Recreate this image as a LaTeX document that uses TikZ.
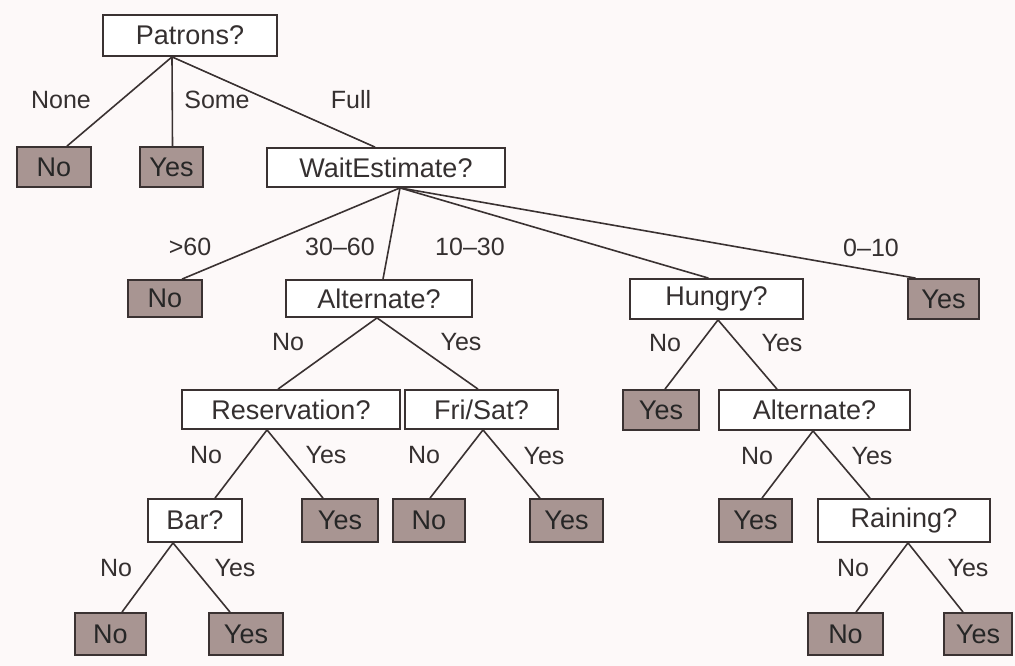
\documentclass[tikz,border=0pt]{standalone}
\usepackage{fontspec}
\setmainfont{Liberation Sans}
\definecolor{bgc}{HTML}{FDF9F9}
\definecolor{leafc}{HTML}{A89592}
\definecolor{inkc}{HTML}{3A3232}
\definecolor{txtc}{HTML}{353030}
\begin{document}
\begin{tikzpicture}[x=1pt,y=-1pt,
  box/.style={draw=inkc,line width=1.8pt,fill=white,inner sep=0pt,text=txtc,font=\fontsize{27}{30}\selectfont},
  inner/.style={box},
  leaf/.style={box,fill=leafc,text=black!85},
  lab/.style={inner sep=0pt,text=txtc,font=\fontsize{25}{28}\selectfont},
  edge/.style={draw=inkc,line width=1.6pt}]
\useasboundingbox[fill=bgc] (0,0) rectangle (1015,666);
% nodes
\node[inner,minimum width=174pt,minimum height=41pt] (pat) at (190,35.5) {Patrons?};
\node[leaf,minimum width=74pt,minimum height=40pt] (n1) at (54,167) {No};
\node[leaf,minimum width=63pt,minimum height=40pt] (y1) at (171.5,167) {Yes};
\node[inner,minimum width=238pt,minimum height=39pt] (we) at (386,167.5) {WaitEstimate?};
\node[leaf,minimum width=74pt,minimum height=37pt] (n2) at (165,298.5) {No};
\node[inner,minimum width=186pt,minimum height=37pt] (alta) at (379,298.5) {Alternate?};
\node[inner,minimum width=173pt,minimum height=40pt] (hun) at (716.5,299) {Hungry?};
\node[leaf,minimum width=71pt,minimum height=40pt] (y2) at (943.5,299) {Yes};
\node[inner,minimum width=218pt,minimum height=39pt] (res) at (291,409.5) {Reservation?};
\node[inner,minimum width=153pt,minimum height=39pt] (fri) at (481.5,409.5) {Fri/Sat?};
\node[leaf,minimum width=76pt,minimum height=40pt] (y6) at (661,410) {Yes};
\node[inner,minimum width=191pt,minimum height=40pt] (altb) at (814.5,410) {Alternate?};
\node[inner,minimum width=94pt,minimum height=43pt] (bar) at (195,520.5) {Bar?};
\node[leaf,minimum width=76pt,minimum height=43pt] (y3) at (340,520.5) {Yes};
\node[leaf,minimum width=72pt,minimum height=43pt] (n3) at (429,520.5) {No};
\node[leaf,minimum width=73pt,minimum height=43pt] (y4) at (566.5,520.5) {Yes};
\node[leaf,minimum width=73pt,minimum height=43pt] (y7) at (755.5,520.5) {Yes};
\node[inner,minimum width=172pt,minimum height=43pt] (rain) at (904,520.5) {Raining?};
\node[leaf,minimum width=71pt,minimum height=42pt] (n4) at (110.5,634) {No};
\node[leaf,minimum width=74pt,minimum height=42pt] (y5) at (246,634) {Yes};
\node[leaf,minimum width=75pt,minimum height=42pt] (n5) at (845.5,634) {No};
\node[leaf,minimum width=68pt,minimum height=42pt] (y8) at (978,634) {Yes};
% edges
\draw[edge] ([xshift=-18pt]pat.south) -- ([xshift=13pt]n1.north);
\draw[edge] ([xshift=-18pt]pat.south) -- ([xshift=1pt]y1.north);
\draw[edge] ([xshift=-18pt]pat.south) -- ([xshift=-11pt]we.north);
\draw[edge] ([xshift=14pt]we.south) -- ([xshift=17pt]n2.north);
\draw[edge] ([xshift=14pt]we.south) -- ([xshift=4pt]alta.north);
\draw[edge] ([xshift=14pt]we.south) -- ([xshift=-8pt]hun.north);
\draw[edge] ([xshift=14pt]we.south) -- ([xshift=-28pt]y2.north);
\draw[edge] ([xshift=-2pt]alta.south) -- ([xshift=-13pt]res.north);
\draw[edge] ([xshift=-2pt]alta.south) -- ([xshift=-3.5pt]fri.north);
\draw[edge] ([xshift=1.5pt]hun.south) -- ([xshift=4pt]y6.north);
\draw[edge] ([xshift=1.5pt]hun.south) -- ([xshift=-37.5pt]altb.north);
\draw[edge] ([xshift=-24pt]res.south) -- ([xshift=20pt]bar.north);
\draw[edge] ([xshift=-24pt]res.south) -- ([xshift=-17pt]y3.north);
\draw[edge] ([xshift=1.5pt]fri.south) -- ([xshift=1pt]n3.north);
\draw[edge] ([xshift=1.5pt]fri.south) -- ([xshift=-26.5pt]y4.north);
\draw[edge] ([xshift=-1.5pt]altb.south) -- ([xshift=6.5pt]y7.north);
\draw[edge] ([xshift=-1.5pt]altb.south) -- ([xshift=-34pt]rain.north);
\draw[edge] ([xshift=-22pt]bar.south) -- ([xshift=11.5pt]n4.north);
\draw[edge] ([xshift=-22pt]bar.south) -- ([xshift=-16pt]y5.north);
\draw[edge] ([xshift=4pt]rain.south) -- ([xshift=10.5pt]n5.north);
\draw[edge] ([xshift=4pt]rain.south) -- ([xshift=-15pt]y8.north);
% labels
\node[lab] (lNone) at (61,100) {None};
\node[lab] (lSome) at (217,100) {Some};
\node[lab] (lFull) at (351,100) {Full};
\node[lab] (l60) at (190,247) {>60};
\node[lab] (l3060) at (340,247) {30–60};
\node[lab] (l1030) at (470,247) {10–30};
\node[lab] (l010) at (871,248) {0–10};
\node[lab] (laN) at (288,342) {No};
\node[lab] (laY) at (461,342) {Yes};
\node[lab] (lhN) at (665,343) {No};
\node[lab] (lhY) at (782,343) {Yes};
\node[lab] (lrN) at (206,455) {No};
\node[lab] (lrY) at (326,455) {Yes};
\node[lab] (lfN) at (424,455) {No};
\node[lab] (lfY) at (544,456) {Yes};
\node[lab] (lbN) at (757,456) {No};
\node[lab] (lbY) at (872,456) {Yes};
\node[lab] (lbaN) at (116,568) {No};
\node[lab] (lbaY) at (235,568) {Yes};
\node[lab] (lraN) at (853,568) {No};
\node[lab] (lraY) at (968,568) {Yes};
\end{tikzpicture}
\end{document}
